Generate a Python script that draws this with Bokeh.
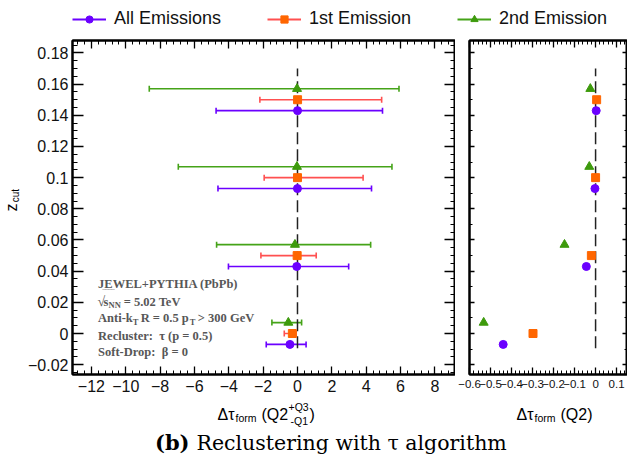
from bokeh.plotting import figure
from bokeh.models import (Range1d, LinearAxis, Label, Legend, LegendItem, ColumnDataSource,
                          Whisker, TeeHead, SingleIntervalTicker, CustomJSTickFormatter)
from bokeh.layouts import column, row
from bokeh.embed import file_html
from bokeh.resources import INLINE

# ---------------- data ----------------
zcut = [0.0, 0.05, 0.10, 0.15]
series_names = ["All Emissions", "1st Emission", "2nd Emission"]
all_median = [-0.44, -0.044, -0.003, 0.003]
all_q1 = [-1.82, -4.02, -4.63, -4.74]
all_q3 = [0.50, 2.98, 4.31, 4.95]
first_median = [-0.298, -0.020, 0.000, 0.005]
first_q1 = [-0.77, -2.13, -1.94, -2.19]
first_q3 = [-0.09, 1.09, 3.82, 4.90]
second_median = [-0.533, -0.148, -0.030, -0.025]
second_q1 = [-1.49, -4.71, -6.94, -8.63]
second_q3 = [0.24, 4.26, 5.50, 5.91]
ref_x = 0.0
ref_y = [-0.0095, 0.170]

medians = [all_median, first_median, second_median]
q1s = [all_q1, first_q1, second_q1]
q3s = [all_q3, first_q3, second_q3]

# ---------------- layout / style ----------------
W = 627
LEG_H = 34
MID_TOP, MID_BOT = 34, 398
FRAME_TOP, FRAME_BOT = 40, 374
A_LEFT, A_RIGHT = 72, 454
B_LEFT, B_RIGHT = 469, 626
YLAB_W = 24
SPLIT = 455
XR_A = (-13.1, 9.2)
XR_B = (-0.6005, 0.152)
YR = (-0.0263, 0.188)
SANS = "Liberation Sans"
SERIF = "Liberation Serif"

styles = [
    dict(marker="circle", size=8, mcolor="#6b00ff", lcolor="#6b00ff", dz=-0.007),
    dict(marker="square", size=8, mcolor="#ff6600", lcolor="#ff5050", dz=0.0),
    dict(marker="triangle", size=9, mcolor="#3d9a0c", lcolor="#45a318", dz=0.007),
]

fmt = CustomJSTickFormatter(code="""
const v = Math.round(tick * 1000) / 1000;
if (Math.abs(v) < 1e-9) { return "0"; }
return (v < 0 ? "\u2212" : "") + String(Math.abs(v));
""")
blank_fmt = CustomJSTickFormatter(code="return '';")


def style_axis(ax, interval, nminor, tin, tmin, label_size=None, standoff=4):
    ax.ticker = SingleIntervalTicker(interval=interval, num_minor_ticks=nminor)
    ax.major_tick_in = tin
    ax.major_tick_out = 0
    ax.minor_tick_in = tmin
    ax.minor_tick_out = 0
    ax.axis_line_width = 2
    ax.axis_line_color = "black"
    ax.major_tick_line_width = 1.3
    ax.minor_tick_line_width = 1
    ax.major_label_text_font = SANS
    ax.major_label_text_color = "#111111"
    if label_size is None:
        ax.formatter = blank_fmt
        ax.major_label_text_font_size = "1px"
        ax.major_label_standoff = 0
    else:
        ax.formatter = fmt
        ax.major_label_text_font_size = label_size
        ax.major_label_standoff = standoff


def base_fig(width, height, xr, yr, **kw):
    f = figure(width=width, height=height, x_range=Range1d(*xr), y_range=Range1d(*yr),
               output_backend="svg", toolbar_location=None, **kw)
    f.grid.visible = False
    return f


def plain_fig(width, height):
    f = figure(width=width, height=height, x_range=Range1d(0, width), y_range=Range1d(height, 0),
               output_backend="svg", toolbar_location=None, x_axis_location=None,
               y_axis_location=None, min_border=0)
    f.grid.visible = False
    f.outline_line_color = None
    return f


def lab(f, x, y, text, size, font=SANS, style="normal", color="black", align="left",
        baseline="alphabetic", angle=0.0):
    f.add_layout(Label(x=x, y=y, text=text, text_font=font, text_font_size=f"{size}px",
                       text_font_style=style, text_color=color, text_align=align,
                       text_baseline=baseline, angle=angle))


mid_h = MID_BOT - MID_TOP

# ---------------- left panel ----------------
pa = base_fig(SPLIT - YLAB_W, mid_h, XR_A, YR,
              min_border_left=A_LEFT - YLAB_W, min_border_right=SPLIT - A_RIGHT - 1,
              min_border_top=FRAME_TOP - MID_TOP, min_border_bottom=MID_BOT - FRAME_BOT)
# ---------------- right panel ----------------
pb = base_fig(W - SPLIT, mid_h, XR_B, YR,
              min_border_left=B_LEFT - SPLIT, min_border_right=W - B_RIGHT - 1,
              min_border_top=FRAME_TOP - MID_TOP, min_border_bottom=MID_BOT - FRAME_BOT)

for f, (xint, xmin_n, xt, xtm, xls), (yt, ytm, yls, ynm) in [
    (pa, (2, 5, 8, 4, "16px"), (11, 5, "16px", 4)),
    (pb, (0.1, 5, 7, 4, "11.5px"), (5, 3, None, 2)),
]:
    f.outline_line_color = "black"
    f.outline_line_width = 2
    style_axis(f.xaxis[0], xint, xmin_n, xt, xtm, xls, 5)
    style_axis(f.yaxis[0], 0.02, ynm, yt, ytm, yls, 4)
    top = LinearAxis()
    style_axis(top, xint, xmin_n, xt, xtm)
    f.add_layout(top, "above")
    right = LinearAxis()
    style_axis(right, 0.02, ynm, yt, ytm)
    f.add_layout(right, "right")
    f.line(x=[ref_x, ref_x], y=ref_y, line_color="#222222", line_width=1.5, line_dash="12 5")

# legend strip (its renderers are hidden; only their legend glyphs are shown)
pl = plain_fig(W, LEG_H)
items = []

for name, med, q1, q3, st in zip(series_names, medians, q1s, q3s, styles):
    zd = [z + st["dz"] for z in zcut]
    src = ColumnDataSource(dict(z=zd, med=med, lo=q1, hi=q3))
    w = Whisker(source=src, base="z", lower="lo", upper="hi", dimension="width",
                line_color=st["lcolor"], line_width=1.6, level="underlay",
                lower_head=TeeHead(size=6, line_color=st["lcolor"], line_width=1.6),
                upper_head=TeeHead(size=6, line_color=st["lcolor"], line_width=1.6))
    pa.add_layout(w)
    pa.scatter(x="med", y="z", source=src, marker=st["marker"], size=st["size"],
               fill_color=st["mcolor"], line_color=st["mcolor"])
    pb.scatter(x="med", y="z", source=src, marker=st["marker"], size=st["size"],
               fill_color=st["mcolor"], line_color=st["mcolor"])
    rl = pl.line(x="med", y="z", source=src, line_color=st["lcolor"], line_width=2, visible=False)
    rm = pl.scatter(x="med", y="z", source=src, marker=st["marker"], size=st["size"],
                    fill_color=st["mcolor"], line_color=st["mcolor"], visible=False)
    items.append(LegendItem(label=name, renderers=[rl, rm]))

legend = Legend(items=items, orientation="horizontal", location=(72, 5),
                label_text_font=SANS, label_text_font_size="18px", label_text_color="#111111",
                glyph_width=34, glyph_height=18, label_standoff=8, spacing=46,
                padding=0, margin=0, border_line_color=None, background_fill_alpha=0,
                inactive_fill_alpha=0)
pl.add_layout(legend, "center")


# text box in left panel (placed by page pixel position)
def ax_(px):
    return XR_A[0] + (px - A_LEFT) * (XR_A[1] - XR_A[0]) / (A_RIGHT - A_LEFT)


def ay_(py):
    return YR[1] - (py - FRAME_TOP) * (YR[1] - YR[0]) / (FRAME_BOT - FRAME_TOP)


TB = dict(font=SERIF, style="bold", color="#575757", baseline="middle")
lab(pa, ax_(97.5), ay_(283), "JEWEL+PYTHIA (PbPb)", 12.5, **TB)
lab(pa, ax_(97), ay_(301), "\u221a", 14, font=SERIF, color="#575757", baseline="middle")
lab(pa, ax_(102), ay_(292.5), "\u203e\u203e\u203e\u203e", 9, font=SERIF, color="#575757", baseline="middle")
lab(pa, ax_(103), ay_(301), "s", 12.5, **TB)
lab(pa, ax_(108), ay_(304.5), "NN", 8.5, **TB)
lab(pa, ax_(123), ay_(301.5), "= 5.02 TeV", 12.5, **TB)
lab(pa, ax_(97.5), ay_(317.5), "Anti-k", 12.5, **TB)
lab(pa, ax_(132), ay_(321), "T", 8.5, **TB)
lab(pa, ax_(140), ay_(317.5), "R = 0.5 p", 12.5, **TB)
lab(pa, ax_(189), ay_(321), "T", 8.5, **TB)
lab(pa, ax_(197), ay_(317.5), "> 300 GeV", 12.5, **TB)
lab(pa, ax_(97.5), ay_(335), "Recluster: \u00a0\u03c4 (p = 0.5)", 12.5, **TB)
lab(pa, ax_(97.5), ay_(351), "Soft-Drop: \u00a0\u03b2 = 0", 12.5, **TB)

# ---------------- y label strip ----------------
py_ = plain_fig(YLAB_W, mid_h)
lab(py_, 11, 216 - MID_TOP, "z", 16, align="center", baseline="middle", angle=1.5708)
lab(py_, 15, 203 - MID_TOP, "cut", 10, align="center", baseline="middle", angle=1.5708)

# ---------------- bottom strip: axis titles + caption ----------------
BH = 460 - MID_BOT
pc = plain_fig(W, BH)
b0 = MID_BOT
lab(pc, 217, 414 - b0, "\u0394\u03c4", 16)
lab(pc, 235, 417.5 - b0, "form", 10.5)
lab(pc, 261, 414 - b0, "(Q2", 16)
lab(pc, 288, 406.5 - b0, "+Q3", 10.5)
lab(pc, 290, 420 - b0, "-Q1", 10.5)
lab(pc, 309, 414 - b0, ")", 16)

lab(pc, 516, 414 - b0, "\u0394\u03c4", 16)
lab(pc, 534, 417.5 - b0, "form", 10.5)
lab(pc, 560, 414 - b0, "(Q2)", 16)

lab(pc, 189, 442 - b0, "(b)", 21, font="DejaVu Serif", style="bold", align="right")
lab(pc, 196, 442 - b0, "Reclustering with \u03c4 algorithm", 20.5, font="DejaVu Serif")

layout = column(pl, row(py_, pa, pb), pc)
open("out.html", "w").write(file_html(layout, INLINE))
